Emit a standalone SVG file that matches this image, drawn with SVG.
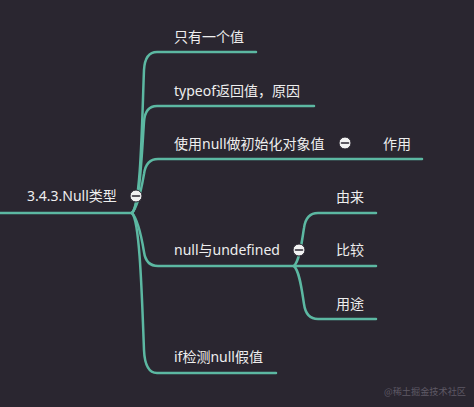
<svg xmlns="http://www.w3.org/2000/svg" width="474" height="407" viewBox="0 0 474 407">
<style>
.bg{fill:#2a2630}
.ln{fill:none;stroke:#5cb8a2;stroke-width:2.5;stroke-linecap:round}
.t{font-family:"Noto Sans","Noto Sans CJK SC",sans-serif;font-size:14px;fill:#eeeeee}
.wm{font-family:"Noto Sans CJK SC",sans-serif;font-size:9.2px;fill:#5e5965}
.cc{fill:#f2f2f2;stroke:#2a2630;stroke-width:1}
.cm{stroke:#2a2630;stroke-width:1.6;stroke-linecap:round}
</style>
<rect class="bg" x="0" y="0" width="474" height="407"/>
<g id="connectors">
<path class="ln" d="M0 213 H132"/>
<path class="ln" d="M132 213 C141 205 142 120 144 70 Q145 52 157 52 H256"/>
<path class="ln" d="M132 213 C140 205 142 150 144 122 Q145 106 157 106 H314"/>
<path class="ln" d="M132 213 C139 205 142 185 144 174 Q146 159 158 159 H422"/>
<path class="ln" d="M132 213 C139 221 142 240 144 252 Q146 266 158 266 H294"/>
<path class="ln" d="M132 213 C140 221 142 300 144 350 Q145 373 157 373 H276"/>
<path class="ln" d="M294 266 C300 260 302 240 304 228 Q306 213 318 213 H376"/>
<path class="ln" d="M294 266 H376"/>
<path class="ln" d="M294 266 C300 272 302 292 304 304 Q306 319 318 319 H376"/>
</g>
<g id="root">
<text class="t" x="27" y="201">3.4.3.Null类型</text>
<circle class="cc" cx="136" cy="196" r="6"/>
<line class="cm" x1="132.5" y1="196" x2="139.5" y2="196"/>
</g>
<g id="n1"><text class="t" x="174" y="42">只有一个值</text></g>
<g id="n2"><text class="t" x="174" y="96">typeof返回值，原因</text></g>
<g id="n3">
<text class="t" x="174" y="149">使用null做初始化对象值</text>
<circle class="cc" cx="345" cy="143" r="6"/>
<line class="cm" x1="341.5" y1="143" x2="348.5" y2="143"/>
</g>
<g id="n3a"><text class="t" x="383" y="149">作用</text></g>
<g id="n4">
<text class="t" x="174" y="255">null与undefined</text>
<circle class="cc" cx="299" cy="250" r="6"/>
<line class="cm" x1="295.5" y1="250" x2="302.5" y2="250"/>
</g>
<g id="n4a"><text class="t" x="336" y="202">由来</text></g>
<g id="n4b"><text class="t" x="336" y="255">比较</text></g>
<g id="n4c"><text class="t" x="336" y="309">用途</text></g>
<g id="n5"><text class="t" x="174" y="362">if检测null假值</text></g>
<text class="wm" x="384" y="394.5" textLength="82" lengthAdjust="spacingAndGlyphs">@稀土掘金技术社区</text>
</svg>
